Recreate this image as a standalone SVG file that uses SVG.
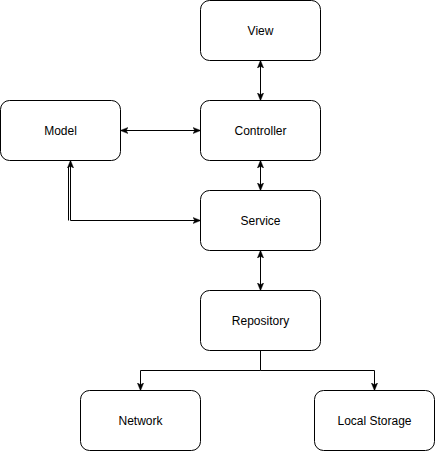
<svg xmlns="http://www.w3.org/2000/svg" width="435" height="451" viewBox="0 0 435 451">
<style>
.box{fill:#fff;stroke:#000;stroke-width:1}
.lbl{font-family:"Liberation Sans",Arial,sans-serif;font-size:12px;fill:#000;text-anchor:middle;dominant-baseline:central}
.edge{fill:none;stroke:#000;stroke-width:1}
</style>
<defs>
<marker id="arr" viewBox="0 0 10 10" refX="9" refY="5" markerWidth="8" markerHeight="8" markerUnits="userSpaceOnUse" orient="auto-start-reverse">
<path d="M0,1 L10,5 L0,9 L2.5,5 Z" fill="#000" stroke="#000" stroke-width="0.5"/>
</marker>
</defs>
<rect width="435" height="451" fill="#fff"/>
<g id="connectors">
<line class="edge" x1="260.5" y1="61" x2="260.5" y2="100" marker-start="url(#arr)" marker-end="url(#arr)"/>
<line class="edge" x1="121" y1="130.5" x2="200" y2="130.5" marker-start="url(#arr)" marker-end="url(#arr)"/>
<line class="edge" x1="260.5" y1="161" x2="260.5" y2="190" marker-start="url(#arr)" marker-end="url(#arr)"/>
<path class="edge" d="M70.5,161 L70.5,220.5 L200,220.5" marker-start="url(#arr)" marker-end="url(#arr)"/>
<line class="edge" x1="68.5" y1="166" x2="68.5" y2="220.5"/>
<line class="edge" x1="260.5" y1="251" x2="260.5" y2="290" marker-start="url(#arr)" marker-end="url(#arr)"/>
<path class="edge" d="M260.5,350.5 L260.5,370.5 L140.5,370.5 L140.5,390" marker-end="url(#arr)"/>
<path class="edge" d="M260.5,370.5 L374.5,370.5 L374.5,390" marker-end="url(#arr)"/>
</g>
<g id="view"><rect class="box" x="200.5" y="0.5" width="120" height="60" rx="9"/><text class="lbl" x="260.5" y="30.5">View</text></g>
<g id="controller"><rect class="box" x="200.5" y="100.5" width="120" height="60" rx="9"/><text class="lbl" x="260.5" y="130.5">Controller</text></g>
<g id="model"><rect class="box" x="0.5" y="100.5" width="120" height="60" rx="9"/><text class="lbl" x="60.5" y="130.5">Model</text></g>
<g id="service"><rect class="box" x="200.5" y="190.5" width="120" height="60" rx="9"/><text class="lbl" x="260.5" y="220.5">Service</text></g>
<g id="repository"><rect class="box" x="200.5" y="290.5" width="120" height="60" rx="9"/><text class="lbl" x="260.5" y="320.5">Repository</text></g>
<g id="network"><rect class="box" x="80.5" y="390.5" width="120" height="60" rx="9"/><text class="lbl" x="140.5" y="420.5">Network</text></g>
<g id="local-storage"><rect class="box" x="314.5" y="390.5" width="120" height="60" rx="9"/><text class="lbl" x="374.5" y="420.5">Local Storage</text></g>
</svg>
